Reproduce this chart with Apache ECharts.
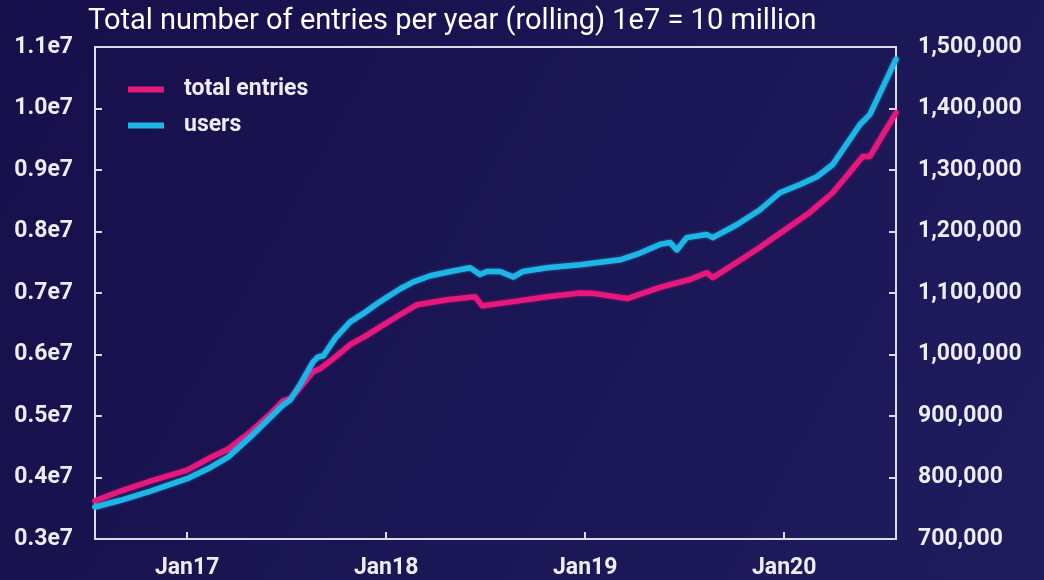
<!DOCTYPE html>
<html>
<head>
<meta charset="utf-8">
<script src="https://cdn.jsdelivr.net/npm/echarts@6/dist/echarts.min.js"></script>
<style>
  html, body { margin: 0; padding: 0; background: #1a1452; }
  #chart { width: 1044px; height: 580px; }
</style>
</head>
<body>
<div id="chart"></div>
<script>
// Rolling yearly totals: entries (left axis) and users (right axis)
const entryDates = ['2016-07-16','2016-09-01','2016-10-26','2017-01-01','2017-02-12','2017-03-17','2017-04-27','2017-06-02','2017-06-26','2017-07-09','2017-07-27','2017-08-20','2017-09-02','2017-09-30','2017-10-27','2017-11-24','2017-12-21','2018-01-27','2018-02-27','2018-04-23','2018-06-13','2018-06-26','2018-07-10','2018-08-22','2018-10-23','2018-12-23','2019-01-19','2019-03-19','2019-05-18','2019-07-12','2019-08-12','2019-08-23','2019-09-29','2019-11-17','2020-01-11','2020-02-17','2020-03-30','2020-05-24','2020-06-06','2020-07-24'];
const entryValues = [3620000,3780000,3940000,4120000,4320000,4460000,4740000,5030000,5250000,5280000,5460000,5720000,5770000,5960000,6160000,6300000,6450000,6650000,6810000,6890000,6940000,6790000,6810000,6860000,6940000,7000000,6990000,6910000,7090000,7220000,7330000,7250000,7460000,7740000,8080000,8310000,8630000,9220000,9220000,9930000];

const userDates = ['2016-07-16','2016-09-01','2016-10-26','2017-01-01','2017-02-12','2017-03-17','2017-04-27','2017-06-02','2017-06-26','2017-07-09','2017-07-27','2017-08-20','2017-08-29','2017-09-08','2017-09-30','2017-10-27','2017-11-24','2017-12-21','2018-01-27','2018-02-20','2018-03-23','2018-04-29','2018-06-04','2018-06-22','2018-07-05','2018-07-29','2018-08-22','2018-09-09','2018-10-23','2018-12-23','2019-03-06','2019-04-12','2019-05-18','2019-06-06','2019-06-18','2019-07-06','2019-08-12','2019-08-23','2019-10-06','2019-11-17','2019-12-24','2020-01-29','2020-03-01','2020-03-30','2020-05-19','2020-06-06','2020-07-24'];
const userValues = [752000,763000,778000,798000,816000,833000,866000,897000,918000,926000,951000,988000,996000,998000,1027000,1053000,1069000,1086000,1107000,1118000,1128000,1135000,1141000,1130000,1135000,1135000,1126000,1135000,1141000,1146000,1154000,1165000,1179000,1182000,1170000,1190000,1195000,1190000,1211000,1235000,1263000,1276000,1289000,1309000,1374000,1390000,1480000];

const xTickYears = [2017, 2018, 2019, 2020];
const xTickLabels = ['Jan17', 'Jan18', 'Jan19', 'Jan20'];
const xRange = ['2016-07-16', '2020-07-24'];

const titleText = 'Total number of entries per year (rolling) 1e7 = 10 million';
const seriesNames = ['total entries', 'users'];

function toTime(s) {
  const p = s.split('-').map(Number);
  return new Date(p[0], p[1] - 1, p[2]).getTime();
}
const tickTimes = xTickYears.map(y => new Date(y, 0, 1).getTime());

const PINK = '#e6187d';
const BLUE = '#1eb6e6';
const FRAME = '#dcdce6';
const TEXT = '#ececf2';
const FONT = 'Roboto, "Noto Sans", sans-serif';
const LABEL_SIZE = 23;

const chart = echarts.init(document.getElementById('chart'), null, { renderer: 'canvas' });

chart.setOption({
  backgroundColor: new echarts.graphic.LinearGradient(0, 0, 1, 1, [
    { offset: 0, color: '#160f4a' },
    { offset: 1, color: '#1f1c5e' }
  ]),
  animation: false,
  title: {
    text: titleText,
    left: 88,
    top: 7,
    padding: 0,
    textStyle: { color: '#ffffff', fontFamily: FONT, fontWeight: 'normal', fontSize: 29 }
  },
  legend: {
    data: seriesNames,
    orient: 'vertical',
    left: 128,
    top: 78,
    padding: 0,
    itemWidth: 36,
    itemHeight: 6,
    itemGap: 13,
    icon: 'rect',
    textStyle: { color: TEXT, fontFamily: FONT, fontWeight: 'bold', fontSize: LABEL_SIZE, padding: [0, 0, 0, 15] }
  },
  grid: {
    left: 95, right: 148, top: 47, bottom: 41,
    show: true, borderColor: FRAME, borderWidth: 2, backgroundColor: 'transparent'
  },
  xAxis: {
    type: 'value',
    min: toTime(xRange[0]),
    max: toTime(xRange[1]),
    axisLine: { show: true, lineStyle: { color: FRAME, width: 2 } },
    axisTick: { show: true, inside: true, length: 7, customValues: tickTimes, lineStyle: { color: FRAME, width: 2 } },
    splitLine: { show: false },
    axisLabel: {
      customValues: tickTimes,
      margin: 18,
      color: TEXT, fontFamily: FONT, fontWeight: 'bold', fontSize: LABEL_SIZE,
      formatter: function (v) {
        const i = tickTimes.indexOf(v);
        return i >= 0 ? xTickLabels[i] : '';
      }
    }
  },
  yAxis: [
    {
      type: 'value',
      min: 3000000, max: 11000000, interval: 1000000,
      position: 'left',
      axisLine: { show: true, lineStyle: { color: FRAME, width: 2 } },
      axisTick: { show: true, inside: true, length: 7, lineStyle: { color: FRAME, width: 2 } },
      splitLine: { show: false },
      axisLabel: {
        margin: 22,
        padding: [6, 0, 0, 0],
        color: TEXT, fontFamily: FONT, fontWeight: 'bold', fontSize: LABEL_SIZE,
        formatter: v => (v / 1e7).toFixed(1) + 'e7'
      }
    },
    {
      type: 'value',
      min: 700000, max: 1500000, interval: 100000,
      position: 'right',
      axisLine: { show: true, lineStyle: { color: FRAME, width: 2 } },
      axisTick: { show: true, inside: true, length: 7, lineStyle: { color: FRAME, width: 2 } },
      splitLine: { show: false },
      axisLabel: {
        margin: 22,
        padding: [6, 0, 0, 0],
        color: TEXT, fontFamily: FONT, fontWeight: 'bold', fontSize: LABEL_SIZE,
        formatter: v => v.toLocaleString('en-US')
      }
    }
  ],
  series: [
    {
      name: seriesNames[0],
      type: 'line',
      yAxisIndex: 0,
      data: entryDates.map((d, i) => [toTime(d), entryValues[i]]),
      showSymbol: false,
      smooth: false,
      color: PINK,
      lineStyle: { width: 5.5, color: PINK, cap: 'round', join: 'round', shadowColor: 'rgba(230,24,125,0.6)', shadowBlur: 3 }
    },
    {
      name: seriesNames[1],
      type: 'line',
      yAxisIndex: 1,
      data: userDates.map((d, i) => [toTime(d), userValues[i]]),
      showSymbol: false,
      smooth: false,
      color: BLUE,
      lineStyle: { width: 5.5, color: BLUE, cap: 'round', join: 'round', shadowColor: 'rgba(30,182,230,0.6)', shadowBlur: 3 }
    }
  ]
});
</script>
</body>
</html>
